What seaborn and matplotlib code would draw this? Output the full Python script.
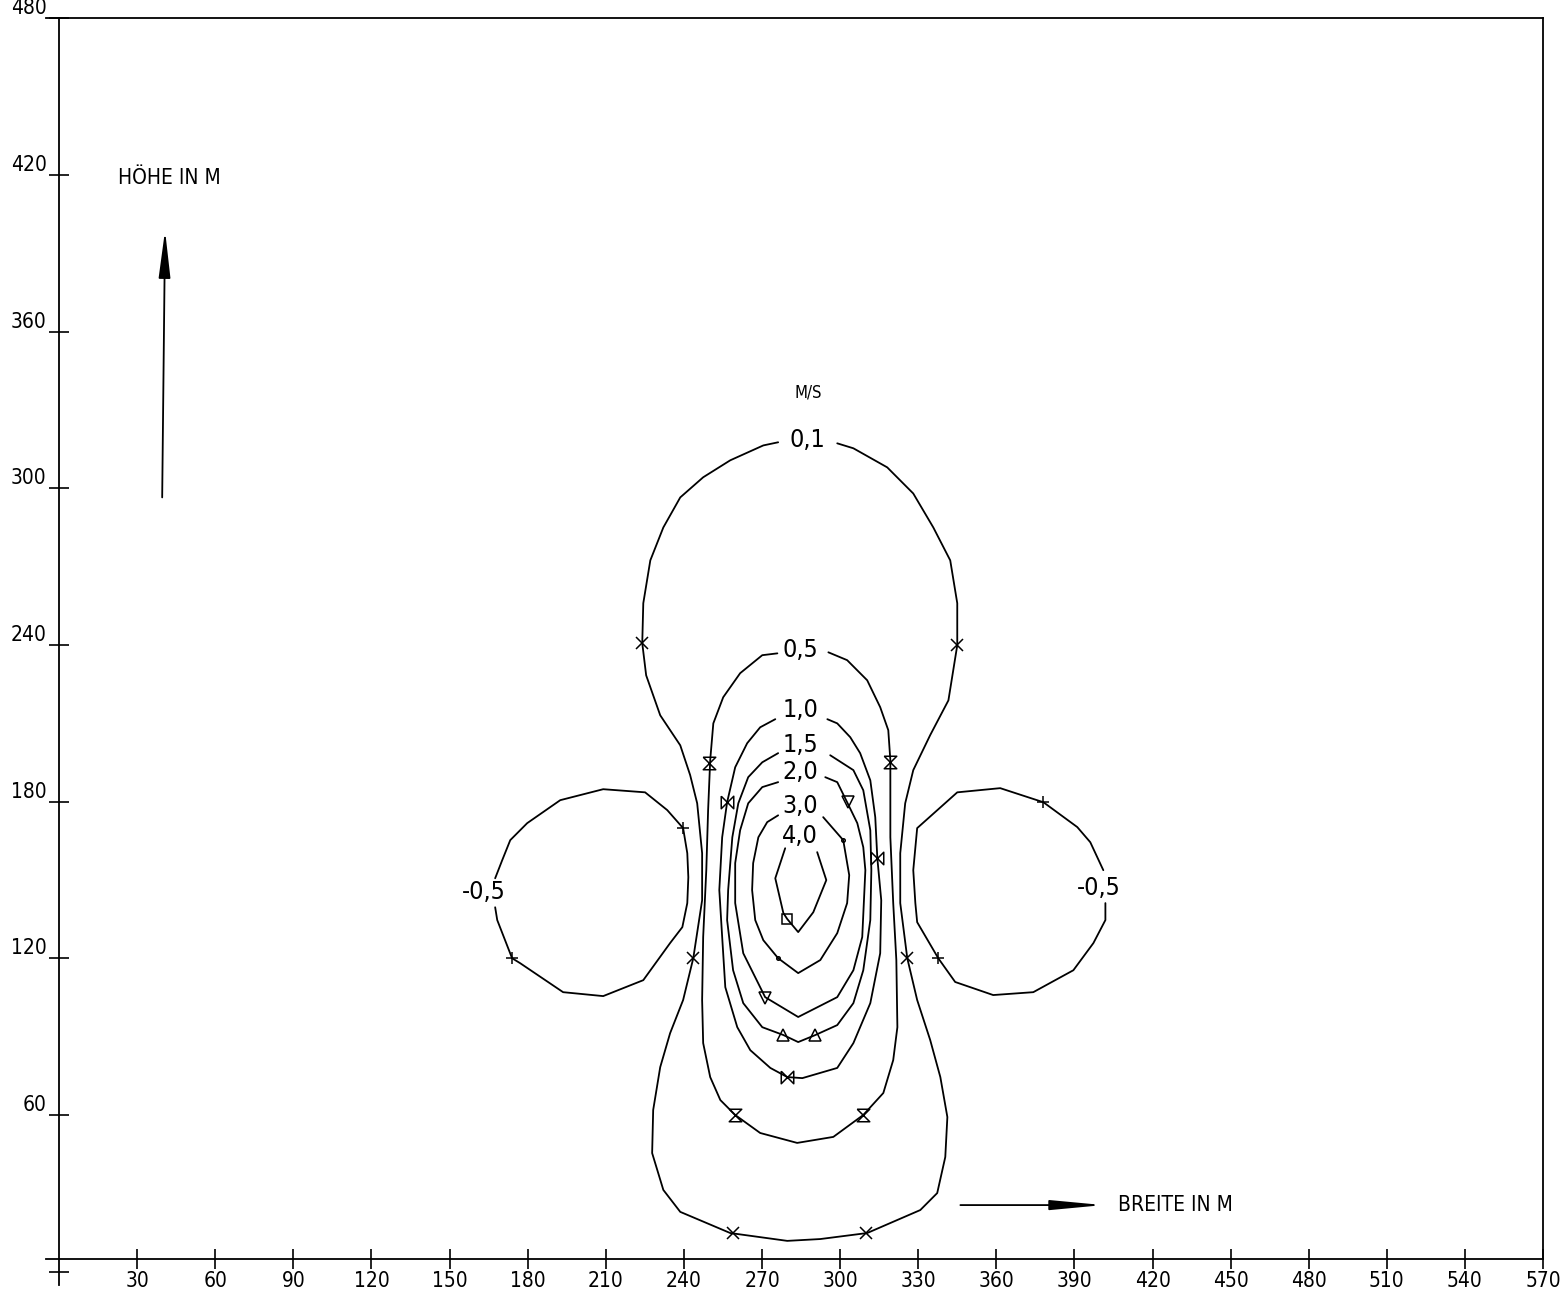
import matplotlib.pyplot as plt
import seaborn as sns

sns.set_style('white')
plt.rcParams['font.family'] = ['DejaVu Sans']
plt.rcParams['font.stretch'] = 'condensed'
plt.rcParams['text.color'] = 'black'

# isolines of vertical velocity (m/s), x = width in m, y = height in m
c01_x = [276.2, 270.5, 257.8, 247.4, 238.6, 232.1, 227.1, 224.4, 224.0, 225.5, 230.9, 238.6, 242.4, 245.1,
         247.0, 247.0, 243.6, 239.7, 234.7, 230.9, 228.2, 227.8, 232.1, 238.6, 257.8, 279.7, 292.4, 310.4,
         330.8, 337.3, 340.4, 341.2, 338.5, 334.6, 329.6, 325.8, 323.1, 323.1, 325.0, 328.1, 334.6, 341.6,
         345.0, 345.0, 342.3, 335.8, 328.1, 318.1, 305.1, 298.9]
c01_y = [317.6, 316.4, 310.7, 304.2, 296.5, 285.0, 272.4, 256.0, 240.7, 228.4, 213.1, 201.6, 190.2, 179.4,
         160.3, 142.3, 120.1, 104.1, 91.4, 78.4, 62.0, 45.5, 31.4, 23.0, 14.9, 11.9, 12.6, 14.9,
         23.7, 30.2, 44.0, 59.3, 74.6, 88.8, 104.1, 120.1, 141.2, 160.3, 179.4, 192.1, 205.5, 218.8,
         239.9, 256.0, 272.4, 285.0, 298.0, 308.0, 315.3, 317.2]

c05_x = [275.9, 270.1, 261.6, 255.1, 251.3, 250.1, 249.3, 248.6, 247.4, 247.0, 247.4, 250.1, 254.0, 259.7,
         269.3, 283.5, 297.4, 308.9, 316.6, 320.4, 322.0, 321.6, 320.4, 319.3, 319.3, 318.5, 315.4, 310.4,
         302.7, 295.5]
c05_y = [236.8, 236.1, 229.2, 220.0, 210.0, 195.9, 176.8, 153.8, 128.2, 104.1, 87.6, 74.6, 65.8, 60.1,
         53.2, 49.4, 51.7, 60.1, 68.5, 81.1, 93.7, 119.4, 141.2, 166.4, 195.9, 207.4, 216.2, 226.5,
         234.2, 237.2]

c10_x = [275.1, 269.3, 264.3, 259.7, 256.6, 254.7, 253.6, 254.7, 255.9, 260.5, 265.5, 273.2, 279.7, 285.5,
         298.9, 305.1, 311.6, 315.4, 315.8, 314.3, 313.5, 311.6, 307.7, 303.9, 298.9, 295.1]
c10_y = [211.6, 208.5, 202.4, 193.2, 179.8, 166.4, 146.2, 128.2, 109.0, 93.7, 84.9, 78.1, 74.6, 74.2,
         78.1, 87.6, 102.9, 122.0, 142.3, 158.4, 174.1, 188.2, 198.6, 204.7, 210.0, 211.6]

c15_x = [276.2, 270.1, 264.7, 260.9, 258.6, 257.0, 256.6, 258.9, 262.8, 270.1, 278.2, 283.9, 290.5, 298.9,
         305.1, 308.9, 311.6, 312.0, 311.6, 308.9, 305.1, 296.2]
c15_y = [198.6, 195.1, 189.4, 179.4, 166.4, 146.2, 134.7, 115.5, 102.9, 93.7, 90.7, 88.0, 90.7, 94.5,
         102.9, 115.5, 134.7, 153.8, 169.1, 184.4, 192.1, 197.8]

c20_x = [276.2, 270.1, 264.7, 261.6, 259.7, 259.7, 262.8, 271.2, 283.9, 298.9, 305.1, 308.5, 309.7, 308.9,
         306.6, 302.7, 298.9, 294.3]
c20_y = [187.5, 185.6, 179.4, 169.1, 156.5, 141.2, 122.0, 105.2, 97.6, 105.2, 115.5, 128.2, 153.8, 162.6,
         171.8, 179.8, 187.5, 189.4]

c30_x = [276.2, 272.0, 268.6, 266.6, 266.2, 267.4, 270.5, 276.2, 283.9, 292.4, 298.9, 302.7, 303.5, 301.2,
         293.5]
c30_y = [174.8, 172.2, 166.4, 156.5, 146.2, 134.7, 127.0, 120.1, 114.4, 119.4, 129.7, 141.2, 151.9, 165.3,
         174.1]

c40_x = [278.9, 275.1, 278.2, 279.7, 283.9, 289.7, 294.7, 291.2]
c40_y = [162.2, 150.7, 137.4, 135.1, 130.1, 137.7, 150.0, 160.7]

cn05a_x = [167.5, 170.2, 173.3, 179.8, 192.5, 209.0, 225.1, 233.6, 239.7, 241.3, 241.7, 241.3, 239.4, 234.7,
           224.4, 209.0, 193.6, 177.1, 174.0, 168.3, 167.5]
cn05a_y = [150.7, 157.6, 165.3, 171.8, 180.6, 184.8, 183.6, 176.8, 169.9, 160.3, 151.1, 141.2, 132.0, 125.9,
           111.7, 105.6, 107.1, 118.2, 120.1, 134.7, 139.6]

cn05b_x = [401.1, 396.1, 391.1, 378.1, 361.5, 345.0, 329.6, 328.1, 328.9, 329.6, 337.7, 344.2, 358.8, 374.2,
           389.6, 397.3, 401.9, 401.9]
cn05b_y = [153.8, 164.5, 170.3, 179.8, 185.2, 183.6, 169.9, 153.8, 141.2, 133.9, 120.1, 111.0, 106.0, 107.1,
           115.5, 125.9, 134.7, 141.2]

# level labels
lab_text = ['0,1', '0,5', '1,0', '1,5', '2,0', '3,0', '4,0', '-0,5', '-0,5']
lab_x = [287.4, 284.7, 284.7, 284.7, 284.7, 284.7, 284.7, 163.3, 399.2]
lab_y = [318.4, 237.9, 215.0, 201.6, 191.3, 178.3, 166.8, 145.4, 146.9]

# plotter symbols sitting on each isoline
m01_x = [224.0, 345.0, 243.6, 325.8, 259.0, 310.0]
m01_y = [240.7, 239.9, 120.1, 120.1, 14.9, 14.9]
m05_x = [249.7, 319.3, 259.7, 308.9]
m05_y = [194.7, 195.1, 60.1, 60.1]
m10_x = [256.6, 314.3, 279.7]
m10_y = [179.8, 158.4, 74.6]
m15_x = [278.2, 290.5]
m15_y = [90.7, 90.7]
m20_x = [271.2, 303.1]
m20_y = [104.8, 179.8]
m30_x = [276.2, 301.2]
m30_y = [120.1, 165.3]
m40_x = [279.7]
m40_y = [135.1]
mn05_x = [239.7, 174.0, 378.1, 337.7]
mn05_y = [169.9, 120.1, 179.8, 120.1]

x_ticks = list(range(30, 571, 30))
y_ticks = list(range(0, 481, 60))

fig = plt.figure(figsize=(15.67, 12.98), dpi=100)
ax = fig.add_axes([0.0294, 0.0100, 0.9553, 0.9761])

contours = [(c01_x, c01_y), (c05_x, c05_y), (c10_x, c10_y), (c15_x, c15_y), (c20_x, c20_y),
            (c30_x, c30_y), (c40_x, c40_y), (cn05a_x, cn05a_y), (cn05b_x, cn05b_y)]
for cx, cy in contours:
    sns.lineplot(x=cx, y=cy, sort=False, estimator=None, color='black', linewidth=1.3, ax=ax)

hourglass = [(-1, 1), (1, 1), (-1, -1), (1, -1), (-1, 1)]
bowtie = [(-1, 1), (-1, -1), (1, 1), (1, -1), (-1, 1)]
markers = [(m01_x, m01_y, 'x', 8), (m05_x, m05_y, hourglass, 9), (m10_x, m10_y, bowtie, 9),
           (m15_x, m15_y, '^', 8), (m20_x, m20_y, 'v', 8), (m30_x, m30_y, 'o', 2.5),
           (m40_x, m40_y, 's', 7), (mn05_x, mn05_y, '+', 9)]
for mx, my, mk, ms in markers:
    ax.plot(mx, my, linestyle='none', marker=mk, markersize=ms, mfc='none', mec='black', mew=1.1)

for t, lx, ly in zip(lab_text, lab_x, lab_y):
    ax.text(lx, ly, t, fontsize=18, ha='center', va='center')

ax.text(287.8, 336.7, 'M/S', fontsize=12, ha='center', va='center')
ax.text(22.7, 418.9, 'HÖHE IN M', fontsize=15, ha='left', va='center')
ax.text(406.9, 25.6, 'BREITE IN M', fontsize=15, ha='left', va='center')

ax.annotate('', xy=(40.7, 398.7), xytext=(39.6, 296.5),
            arrowprops=dict(arrowstyle='-|>,head_length=2.9,head_width=0.36', color='black', lw=1.3,
                            shrinkA=0, shrinkB=0))
ax.annotate('', xy=(401.1, 25.6), xytext=(346.2, 25.6),
            arrowprops=dict(arrowstyle='-|>,head_length=3.2,head_width=0.3', color='black', lw=1.3,
                            shrinkA=0, shrinkB=0))

ax.set_xlim(-5, 570)
ax.set_ylim(-5, 480)
ax.spines['left'].set_position(('data', 0))
ax.spines['bottom'].set_position(('data', 5))
ax.spines['right'].set_bounds(5, 480)
for s in ax.spines.values():
    s.set_linewidth(1.3)
    s.set_color('black')

ax.set_xticks(x_ticks)
ax.set_xticklabels([str(v) for v in x_ticks])
ax.set_yticks(y_ticks)
ax.set_yticklabels([''] + [str(v) for v in y_ticks[1:]])
ax.tick_params(direction='inout', length=14, width=1.2, labelsize=15, colors='black', pad=2)
ax.tick_params(axis='x', bottom=True)
ax.tick_params(axis='y', left=True)
for lbl in ax.get_yticklabels():
    lbl.set_verticalalignment('bottom')
ax.set_xlabel('')
ax.set_ylabel('')

fig.savefig('out.png', dpi=100, facecolor='white')
